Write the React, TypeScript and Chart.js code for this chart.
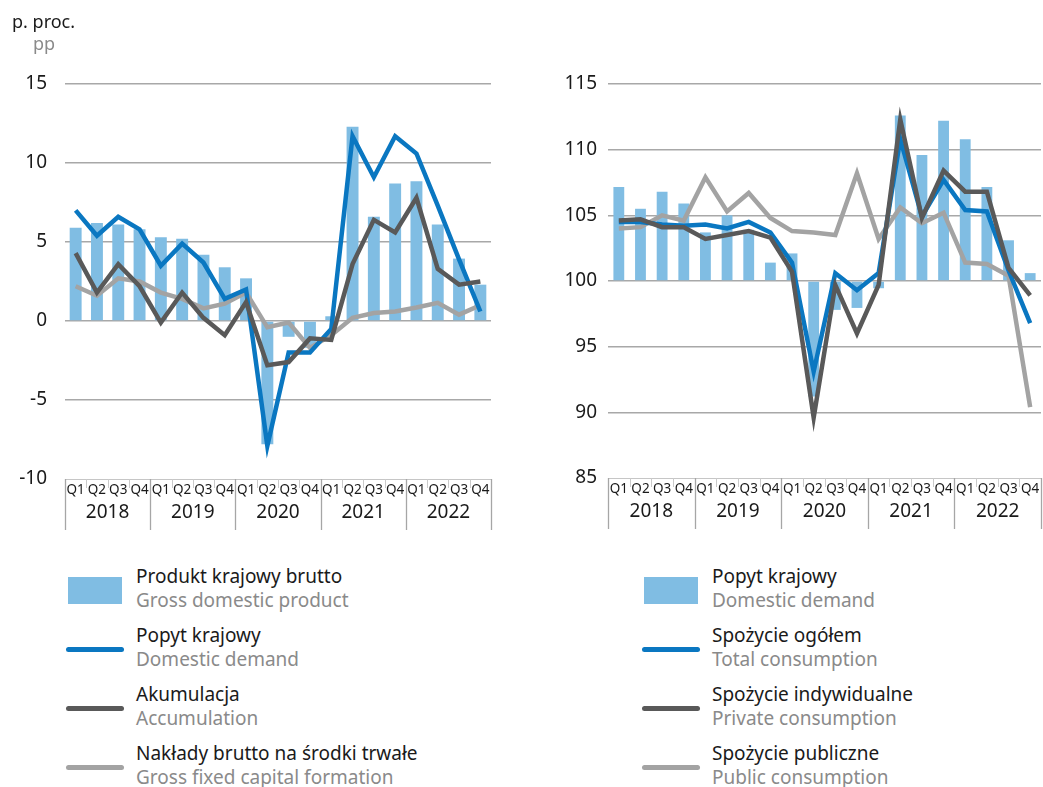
import React, { useEffect, useRef } from 'react';
import { Chart, registerables } from 'chart.js';

Chart.register(...registerables);

const quarterLabels = ['Q1', 'Q2', 'Q3', 'Q4'];
const yearLabels = ['2018', '2019', '2020', '2021', '2022'];
const categories = yearLabels.flatMap((y) => quarterLabels.map((q) => `${q} ${y}`));

// Left chart (p. proc. / pp)
const gdp = [5.9, 6.2, 6.1, 5.8, 5.3, 5.2, 4.2, 3.4, 2.7, -7.8, -1.0, -1.7, 0.3, 12.3, 6.6, 8.7, 8.85, 6.1, 3.95, 2.3];
const domesticDemand = [7.0, 5.4, 6.6, 5.8, 3.5, 4.9, 3.7, 1.4, 2.0, -7.9, -2.0, -2.0, -0.5, 11.7, 9.1, 11.7, 10.6, 7.3, 3.9, 0.6];
const accumulation = [4.3, 1.8, 3.6, 2.2, -0.1, 1.8, 0.2, -0.9, 1.2, -2.8, -2.6, -1.1, -1.2, 3.6, 6.4, 5.6, 7.8, 3.3, 2.3, 2.5];
const gfcf = [2.2, 1.6, 2.7, 2.5, 1.8, 1.4, 0.8, 1.1, 1.8, -0.4, -0.1, -1.7, -0.9, 0.2, 0.5, 0.6, 0.85, 1.15, 0.4, 1.0];
const leftTicks = [-10, -5, 0, 5, 10, 15];

// Right chart (index, same quarter of previous year = 100)
const domesticDemandIdx = [107.15, 105.5, 106.8, 105.9, 103.7, 105.0, 103.9, 101.4, 102.1, 91.2, 97.8, 97.95, 99.45, 112.6, 109.6, 112.2, 110.8, 107.15, 103.1, 100.6];
const totalConsumption = [104.5, 104.5, 104.3, 104.2, 104.3, 104.0, 104.5, 103.7, 101.4, 93.1, 100.6, 99.3, 100.6, 110.8, 104.9, 107.7, 105.4, 105.3, 100.8, 96.8];
const privateConsumption = [104.6, 104.7, 104.1, 104.1, 103.2, 103.5, 103.8, 103.3, 100.7, 89.6, 99.7, 96.0, 99.7, 112.3, 104.8, 108.4, 106.8, 106.8, 101.0, 98.9];
const publicConsumption = [104.0, 104.1, 105.0, 104.6, 107.9, 105.3, 106.7, 104.8, 103.8, 103.7, 103.5, 108.2, 103.2, 105.6, 104.4, 105.2, 101.4, 101.3, 100.4, 90.4];
const rightTicks = [85, 90, 95, 100, 105, 110, 115];

const FONT = "'Noto Sans', sans-serif";
const C_BAR = '#80bde3';
const C_BLUE = '#0a77c1';
const C_DARK = '#595959';
const C_LIGHT = '#a3a3a3';
const C_GRID = '#a8a8a8';

const tablePlugin = {
  id: 'quarterTable',
  afterDraw(chart: any) {
    const ctx = chart.ctx;
    const x = chart.scales.x;
    const a = chart.chartArea;
    const n = categories.length;
    const edges: number[] = [];
    for (let i = 0; i <= n; i++) {
      if (i === 0) edges.push(a.left);
      else if (i === n) edges.push(a.right);
      else edges.push((x.getPixelForValue(i - 1) + x.getPixelForValue(i)) / 2);
    }
    ctx.save();
    ctx.strokeStyle = '#c6c6c6';
    ctx.lineWidth = 1;
    ctx.beginPath();
    ctx.moveTo(a.left, a.bottom + 0.5);
    ctx.lineTo(a.right, a.bottom + 0.5);
    ctx.stroke();
    for (let i = 0; i <= n; i++) {
      const px = Math.round(edges[i]) + 0.5;
      ctx.beginPath();
      if (i % 4 === 0) {
        ctx.strokeStyle = '#a6a6a6';
        ctx.lineWidth = 1.3;
        ctx.moveTo(px, a.bottom);
        ctx.lineTo(px, a.bottom + 51);
      } else {
        ctx.strokeStyle = '#cacaca';
        ctx.lineWidth = 1;
        ctx.moveTo(px, a.bottom);
        ctx.lineTo(px, a.bottom + 9);
      }
      ctx.stroke();
    }
    ctx.fillStyle = '#1a1a1a';
    ctx.textAlign = 'center';
    ctx.textBaseline = 'middle';
    ctx.font = `13.5px ${FONT}`;
    for (let i = 0; i < n; i++) {
      ctx.fillText(quarterLabels[i % 4], x.getPixelForValue(i), a.bottom + 11);
    }
    ctx.font = `19px ${FONT}`;
    for (let y = 0; y < yearLabels.length; y++) {
      const cx = (edges[y * 4] + edges[y * 4 + 4]) / 2;
      ctx.fillText(yearLabels[y], cx, a.bottom + 34);
    }
    ctx.restore();
  },
};

function lineDs(label: string, data: number[], color: string, order: number) {
  return {
    type: 'line' as const,
    label,
    data,
    borderColor: color,
    backgroundColor: color,
    borderWidth: 4.5,
    pointRadius: 0,
    tension: 0,
    fill: false,
    order,
  };
}

function makeConfig(opts: {
  bars: number[];
  barLabel: string;
  base?: number;
  lines: { label: string; data: number[]; color: string; order: number }[];
  min: number;
  max: number;
  ticks: number[];
  yWidth: number;
  tickPad: number;
  padRight: number;
  padBottom: number;
  barPct: number;
}) {
  const ds: any[] = opts.lines.map((l) => lineDs(l.label, l.data, l.color, l.order));
  const bar: any = {
    type: 'bar',
    label: opts.barLabel,
    data: opts.bars,
    backgroundColor: C_BAR,
    borderWidth: 0,
    categoryPercentage: 1,
    barPercentage: opts.barPct,
    order: 10,
  };
  if (opts.base !== undefined) bar.base = opts.base;
  ds.push(bar);
  return {
    type: 'bar' as const,
    data: { labels: categories, datasets: ds },
    options: {
      animation: false,
      responsive: false,
      devicePixelRatio: 1,
      layout: { padding: { left: 0, right: opts.padRight, top: 84, bottom: opts.padBottom } },
      plugins: { legend: { display: false }, tooltip: { enabled: false } },
      scales: {
        x: { display: false, offset: true },
        y: {
          min: opts.min,
          max: opts.max,
          afterBuildTicks: (s: any) => {
            s.ticks = opts.ticks.map((v) => ({ value: v }));
          },
          afterFit: (s: any) => {
            s.width = opts.yWidth;
          },
          border: { display: false },
          grid: {
            drawTicks: false,
            lineWidth: 1.5,
            color: (c: any) => (c.tick && c.tick.value === opts.min ? 'rgba(0,0,0,0)' : C_GRID),
          },
          ticks: {
            padding: opts.tickPad,
            color: '#1a1a1a',
            font: { family: FONT, size: 19 },
          },
        },
      },
    },
    plugins: [tablePlugin],
  };
}

function ChartCanvas(props: { config: any; left: number; width: number; height: number }) {
  const ref = useRef<HTMLCanvasElement | null>(null);
  useEffect(() => {
    if (!ref.current) return;
    const chart = new Chart(ref.current, props.config);
    return () => chart.destroy();
  }, []);
  return (
    <canvas
      ref={ref}
      width={props.width}
      height={props.height}
      style={{ position: 'absolute', left: props.left, top: 0, width: props.width, height: props.height, display: 'block' }}
    />
  );
}

function LegendItem(props: { kind: 'bar' | 'line'; color: string; pl: string; en: string; x: number; textX: number; baseline: number }) {
  const { kind, color, pl, en, x, textX, baseline } = props;
  const cy = baseline + 7;
  return (
    <>
      {kind === 'bar' ? (
        <div style={{ position: 'absolute', left: x + 1, top: cy - 13.5, width: 54, height: 27, background: color }} />
      ) : (
        <div style={{ position: 'absolute', left: x - 1, top: cy - 2.5, width: 58, height: 5, borderRadius: 3, background: color }} />
      )}
      <div
        style={{
          position: 'absolute',
          left: textX,
          top: baseline - 19.4,
          fontFamily: FONT,
          fontSize: 19,
          lineHeight: '24px',
          whiteSpace: 'nowrap',
        }}
      >
        <div style={{ color: '#1a1a1a' }}>{pl}</div>
        <div style={{ color: '#8a8a8a' }}>{en}</div>
      </div>
    </>
  );
}

export default function App() {
  const leftConfig = makeConfig({
    bars: gdp,
    barLabel: 'Produkt krajowy brutto',
    lines: [
      { label: 'Akumulacja', data: accumulation, color: C_DARK, order: 1 },
      { label: 'Popyt krajowy', data: domesticDemand, color: C_BLUE, order: 2 },
      { label: 'Nakłady brutto na środki trwałe', data: gfcf, color: C_LIGHT, order: 3 },
    ],
    min: -10,
    max: 15,
    ticks: leftTicks,
    yWidth: 65,
    tickPad: 18,
    padRight: 520 - 491,
    padBottom: 540 - 479,
    barPct: 0.56,
  });
  const rightConfig = makeConfig({
    bars: domesticDemandIdx,
    barLabel: 'Popyt krajowy',
    base: 100,
    lines: [
      { label: 'Spożycie indywidualne', data: privateConsumption, color: C_DARK, order: 1 },
      { label: 'Spożycie ogółem', data: totalConsumption, color: C_BLUE, order: 2 },
      { label: 'Spożycie publiczne', data: publicConsumption, color: C_LIGHT, order: 3 },
    ],
    min: 85,
    max: 115,
    ticks: rightTicks,
    yWidth: 608 - 520,
    tickPad: 11,
    padRight: 1043 - 1041,
    padBottom: 540 - 478,
    barPct: 0.5,
  });

  const leftLegend = [
    { kind: 'bar' as const, color: C_BAR, pl: 'Produkt krajowy brutto', en: 'Gross domestic product' },
    { kind: 'line' as const, color: C_BLUE, pl: 'Popyt krajowy', en: 'Domestic demand' },
    { kind: 'line' as const, color: C_DARK, pl: 'Akumulacja', en: 'Accumulation' },
    { kind: 'line' as const, color: C_LIGHT, pl: 'Nakłady brutto na środki trwałe', en: 'Gross fixed capital formation' },
  ];
  const rightLegend = [
    { kind: 'bar' as const, color: C_BAR, pl: 'Popyt krajowy', en: 'Domestic demand' },
    { kind: 'line' as const, color: C_BLUE, pl: 'Spożycie ogółem', en: 'Total consumption' },
    { kind: 'line' as const, color: C_DARK, pl: 'Spożycie indywidualne', en: 'Private consumption' },
    { kind: 'line' as const, color: C_LIGHT, pl: 'Spożycie publiczne', en: 'Public consumption' },
  ];

  return (
    <div style={{ position: 'fixed', left: 0, top: 0, width: 1043, height: 787, background: '#fff', overflow: 'hidden' }}>
      <ChartCanvas config={leftConfig} left={0} width={520} height={540} />
      <ChartCanvas config={rightConfig} left={520} width={523} height={540} />
      <div style={{ position: 'absolute', left: 12, top: 28 - 19, fontFamily: FONT, fontSize: 18, lineHeight: '24px', color: '#1a1a1a' }}>
        p. proc.
      </div>
      <div style={{ position: 'absolute', left: 33, top: 50 - 19, fontFamily: FONT, fontSize: 18, lineHeight: '24px', color: '#8a8a8a' }}>
        pp
      </div>
      {leftLegend.map((it, i) => (
        <LegendItem key={'l' + i} {...it} x={67} textX={136} baseline={583 + 59 * i} />
      ))}
      {rightLegend.map((it, i) => (
        <LegendItem key={'r' + i} {...it} x={643} textX={712} baseline={583 + 59 * i} />
      ))}
    </div>
  );
}
